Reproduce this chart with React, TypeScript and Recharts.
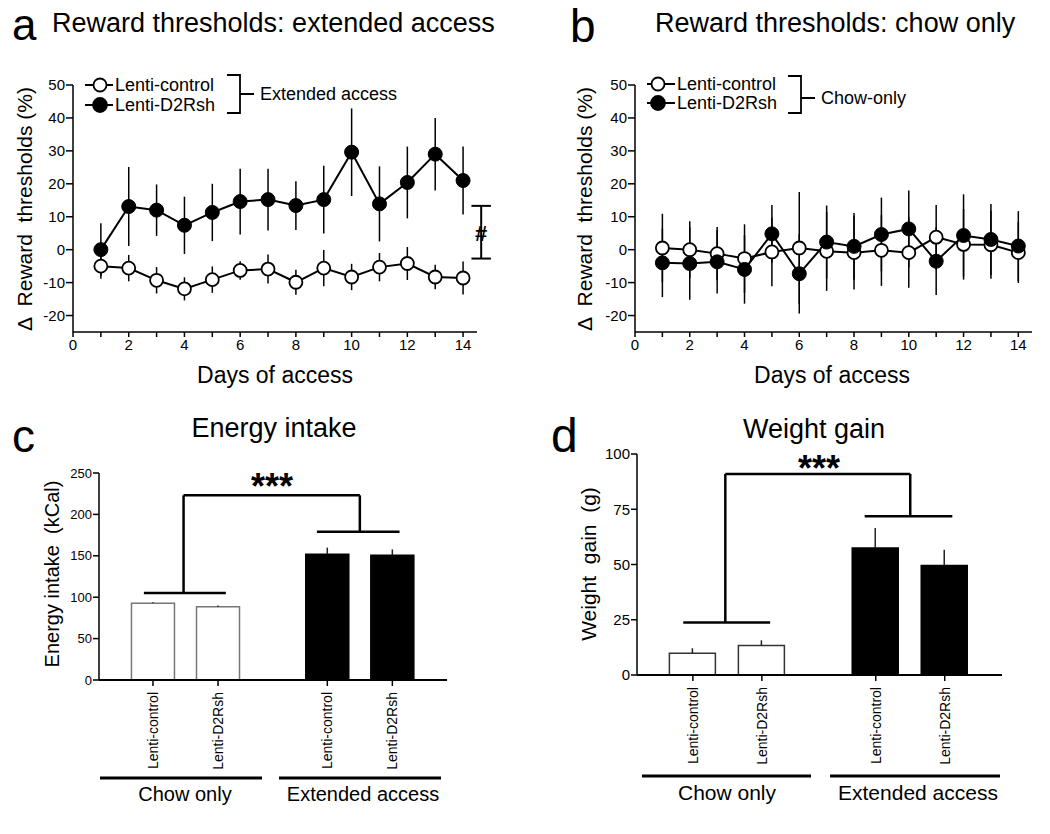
import React from "react";
import {
  LineChart,
  Line,
  BarChart,
  Bar,
  XAxis,
  YAxis,
  ErrorBar,
  Cell,
  ReferenceLine,
} from "recharts";

const FONT = '"Liberation Sans", Arial, Helvetica, sans-serif';

// panels a/b: change in reward thresholds per day
const DAYS = [1, 2, 3, 4, 5, 6, 7, 8, 9, 10, 11, 12, 13, 14];
const DAY_TICKS = [0, 1, 2, 3, 4, 5, 6, 7, 8, 9, 10, 11, 12, 13, 14];
const THRESH_TICKS = [-20, -10, 0, 10, 20, 30, 40, 50];

const A_CONTROL = [-5, -5.6, -9.3, -11.9, -9.1, -6.3, -5.9, -9.9, -5.6, -8.3, -5.3, -4.2, -8.3, -8.6];
const A_CONTROL_ERR = [3.8, 4, 4, 3.5, 4, 2.8, 4.4, 3.8, 5.5, 4, 4.3, 5, 3.7, 5];
const A_D2 = [0, 13.1, 12, 7.4, 11.3, 14.6, 15.2, 13.4, 15.2, 29.6, 13.9, 20.4, 29, 21];
const A_D2_ERR = [8, 12, 7.8, 8.7, 8.7, 10, 9.4, 7.4, 10.3, 13.3, 11.4, 10.9, 11, 10.3];

const B_CONTROL = [0.5, 0, -1.2, -2.7, -0.7, 0.5, -0.5, -0.9, -0.2, -0.9, 3.8, 1.6, 1.5, -0.9];
const B_CONTROL_ERR = [10.4, 8.6, 8.1, 10.4, 10.4, 17, 12, 11.2, 10.8, 10.7, 9.8, 10.7, 10.3, 9.2];
const B_D2 = [-4, -4.2, -3.7, -6, 4.8, -7.3, 2.3, 1, 4.6, 6.3, -3.5, 4.3, 3.1, 1.1];
const B_D2_ERR = [10.4, 11, 9.6, 10.4, 8.8, 12.1, 11.1, 10.1, 11.2, 11.7, 10.3, 12.5, 10.8, 10.6];

// "#" bracket in panel a (top / bottom value)
const A_HASH = [13.3, -2.7];

// panels c/d: bars
const BAR_LABELS = ["Lenti-control", "Lenti-D2Rsh", "Lenti-control", "Lenti-D2Rsh"];
const BAR_FILLS = ["#fff", "#fff", "#000", "#000"];
const GROUP_LABELS = ["Chow only", "Extended access"];

const C_VALUES = [92.8, 88.4, 151.9, 150.7];
const C_ERR = [1, 1.5, 8, 7];
const C_TICKS = [0, 50, 100, 150, 200, 250];
const C_SIG = [105, 179, 223]; // chow line, extended line, top line

const D_VALUES = [9.8, 13.3, 57.5, 49.6];
const D_ERR = [2.3, 2.4, 9, 7.1];
const D_TICKS = [0, 25, 50, 75, 100];
const D_SIG = [23.8, 71.8, 91];

const axisLine = { stroke: "#000", strokeWidth: 1.5 };

function lineData(c: number[], ce: number[], d: number[], de: number[]) {
  return DAYS.map((day, i) => ({
    day,
    control: c[i],
    controlErr: ce[i],
    d2: d[i],
    d2Err: de[i],
  }));
}

function ThresholdChart({
  left,
  width,
  marginLeft,
  marginRight,
  data,
  hash,
}: {
  left: number;
  width: number;
  marginLeft: number;
  marginRight: number;
  data: ReturnType<typeof lineData>;
  hash?: boolean;
}) {
  return (
    <div style={{ position: "absolute", left, top: 0 }}>
      <LineChart
        width={width}
        height={410}
        data={data}
        margin={{ top: 85, right: marginRight, bottom: 18, left: marginLeft }}
      >
        <XAxis
          dataKey="day"
          type="number"
          domain={[0, 14.5]}
          ticks={DAY_TICKS}
          interval={0}
          tickFormatter={(v: number) => (v % 2 === 0 ? String(v) : "")}
          axisLine={axisLine}
          tickLine={axisLine}
          tickSize={5}
          tickMargin={2}
          tick={{ fill: "#000", fontSize: 15, fontFamily: FONT }}
          height={60}
        />
        <YAxis
          type="number"
          domain={[-25, 50]}
          ticks={THRESH_TICKS}
          interval={0}
          axisLine={axisLine}
          tickLine={axisLine}
          tickSize={7}
          tickMargin={1}
          tick={{ fill: "#000", fontSize: 15, fontFamily: FONT }}
          width={60}
        />
        {hash && (
          <>
            <ReferenceLine
              segment={[{ x: 14.65, y: A_HASH[0] }, { x: 14.65, y: A_HASH[1] }]}
              stroke="#000"
              strokeWidth={2}
              ifOverflow="visible"
            />
            <ReferenceLine
              segment={[{ x: 14.3, y: A_HASH[0] }, { x: 15.0, y: A_HASH[0] }]}
              stroke="#000"
              strokeWidth={2}
              ifOverflow="visible"
            />
            <ReferenceLine
              segment={[{ x: 14.3, y: A_HASH[1] }, { x: 15.0, y: A_HASH[1] }]}
              stroke="#000"
              strokeWidth={2}
              ifOverflow="visible"
            />
          </>
        )}
        <Line
          type="linear"
          dataKey="control"
          stroke="#000"
          strokeWidth={2}
          dot={{ r: 6.5, fill: "#fff", stroke: "#000", strokeWidth: 1.8 }}
          isAnimationActive={false}
        >
          <ErrorBar dataKey="controlErr" width={0} stroke="#000" strokeWidth={1.5} direction="y" />
        </Line>
        <Line
          type="linear"
          dataKey="d2"
          stroke="#000"
          strokeWidth={2}
          dot={{ r: 7, fill: "#000", stroke: "#000", strokeWidth: 1 }}
          isAnimationActive={false}
        >
          <ErrorBar dataKey="d2Err" width={0} stroke="#000" strokeWidth={1.5} direction="y" />
        </Line>
      </LineChart>
    </div>
  );
}

function BarPanel({
  left,
  width,
  marginTop,
  marginLeft,
  marginRight,
  marginBottom,
  values,
  errs,
  gap,
  domain,
  ticks,
  barSize,
  sig,
  tickFont,
  outline,
}: {
  left: number;
  width: number;
  marginTop: number;
  marginLeft: number;
  marginRight: number;
  marginBottom: number;
  values: number[];
  errs: number[];
  gap: number;
  domain: [number, number];
  ticks: number[];
  barSize: number;
  sig: number[];
  tickFont: number;
  outline: string;
}) {
  const positions = values.map((_, i) => 1 + i + (i >= 2 ? gap : 0));
  const data = values.map((v, i) => ({ pos: positions[i], value: v, err: [0, errs[i]] }));
  const chowMid = (positions[0] + positions[1]) / 2 - 0.03;
  const extMid = (positions[2] + positions[3]) / 2;
  const seg = (x1: number, y1: number, x2: number, y2: number, k: string) => (
    <ReferenceLine
      key={k}
      segment={[{ x: x1, y: y1 }, { x: x2, y: y2 }]}
      stroke="#000"
      strokeWidth={2.5}
      ifOverflow="visible"
    />
  );
  const RotTick = (props: any) => {
    const { x, y, payload } = props;
    const idx = positions.findIndex((p) => Math.abs(p - payload.value) < 1e-6);
    const yy = y + 4;
    return (
      <text
        x={x}
        y={yy}
        transform={`rotate(-90, ${x}, ${yy})`}
        textAnchor="end"
        dominantBaseline="central"
        fontSize={14}
        fontFamily={FONT}
        fill="#000"
      >
        {BAR_LABELS[idx]}
      </text>
    );
  };
  return (
    <div style={{ position: "absolute", left, top: 410 }}>
      <BarChart
        width={width}
        height={420}
        data={data}
        margin={{ top: marginTop, right: marginRight, bottom: marginBottom, left: marginLeft }}
      >
        <XAxis
          dataKey="pos"
          type="number"
          domain={domain}
          ticks={positions}
          interval={0}
          axisLine={{ stroke: "#000", strokeWidth: 2 }}
          tickLine={axisLine}
          tickSize={6}
          tick={<RotTick />}
          height={100}
        />
        <YAxis
          type="number"
          domain={[0, ticks[ticks.length - 1]]}
          ticks={ticks}
          interval={0}
          axisLine={axisLine}
          tickLine={axisLine}
          tickSize={6}
          tickMargin={1}
          tick={{ fill: "#000", fontSize: tickFont, fontFamily: FONT }}
          width={60}
        />
        <Bar dataKey="value" barSize={barSize} isAnimationActive={false}>
          {data.map((_, i) => (
            <Cell
              key={i}
              fill={BAR_FILLS[i]}
              stroke={BAR_FILLS[i] === "#fff" ? outline : "#000"}
              strokeWidth={1.5}
            />
          ))}
          <ErrorBar dataKey="err" width={0} stroke="#222" strokeWidth={1.5} direction="y" />
        </Bar>
        {seg(positions[0] - 0.14, sig[0], positions[1] + 0.12, sig[0], "a")}
        {seg(chowMid, sig[0], chowMid, sig[2], "b")}
        {seg(chowMid, sig[2], extMid, sig[2], "c")}
        {seg(extMid, sig[2], extMid, sig[1], "d")}
        {seg(positions[2] - 0.16, sig[1], positions[3] + 0.11, sig[1], "e")}
      </BarChart>
    </div>
  );
}

function LegendBlock({
  cx,
  lineX,
  textX,
  rows,
  bracketX,
  bracket,
  label,
}: {
  cx: number;
  lineX: [number, number];
  textX: number;
  rows: [number, number];
  bracketX: number;
  bracket: [number, number, number];
  label: string;
}) {
  const names = ["Lenti-control", "Lenti-D2Rsh"];
  return (
    <g>
      {rows.map((y, i) => (
        <g key={i}>
          <line x1={lineX[0]} y1={y} x2={lineX[1]} y2={y} stroke="#000" strokeWidth={2} />
          <circle
            cx={cx}
            cy={y}
            r={i === 0 ? 6.5 : 7}
            fill={i === 0 ? "#fff" : "#000"}
            stroke="#000"
            strokeWidth={1.8}
          />
          <text x={textX} y={y} dominantBaseline="central" fontSize={18}>
            {names[i]}
          </text>
        </g>
      ))}
      <path
        d={`M${bracketX - 13} ${bracket[0]} H${bracketX} V${bracket[2]} H${bracketX - 13} M${bracketX} ${bracket[1]} H${bracketX + 14}`}
        fill="none"
        stroke="#000"
        strokeWidth={1.8}
      />
      <text x={bracketX + 20} y={bracket[1]} dominantBaseline="central" fontSize={18}>
        {label}
      </text>
    </g>
  );
}

export default function App() {
  const aData = lineData(A_CONTROL, A_CONTROL_ERR, A_D2, A_D2_ERR);
  const bData = lineData(B_CONTROL, B_CONTROL_ERR, B_D2, B_D2_ERR);

  return (
    <div
      style={{
        position: "absolute",
        left: 0,
        top: 0,
        width: 1050,
        height: 834,
        background: "#fff",
        fontFamily: FONT,
        overflow: "hidden",
      }}
    >
      <ThresholdChart left={0} width={520} marginLeft={13} marginRight={43} data={aData} hash />
      <ThresholdChart left={520} width={530} marginLeft={55} marginRight={18} data={bData} />
      <BarPanel
        left={0}
        width={470}
        marginTop={63}
        marginLeft={39}
        marginRight={23}
        marginBottom={50}
        values={C_VALUES}
        errs={C_ERR}
        gap={0.68}
        domain={[0.17, 5.52]}
        ticks={C_TICKS}
        barSize={43}
        sig={C_SIG}
        tickFont={13}
        outline="#777"
      />
      <BarPanel
        left={530}
        width={520}
        marginTop={44}
        marginLeft={47}
        marginRight={48}
        marginBottom={55}
        values={D_VALUES}
        errs={D_ERR}
        gap={0.65}
        domain={[0.19, 5.48]}
        ticks={D_TICKS}
        barSize={46}
        sig={D_SIG}
        tickFont={15}
        outline="#333"
      />
      <svg
        width={1050}
        height={834}
        style={{ position: "absolute", left: 0, top: 0, pointerEvents: "none" }}
        fontFamily={FONT}
        fill="#000"
      >
        {/* panel a */}
        <text x={12} y={40} fontSize={44}>a</text>
        <text x={52} y={32} fontSize={27}>Reward thresholds: extended access</text>
        <text
          x={24}
          y={209}
          fontSize={21}
          textAnchor="middle"
          dominantBaseline="central"
          transform="rotate(-90, 24, 209)"
          style={{ whiteSpace: "pre" }}
        >
          {"Δ  Reward  thresholds (%)"}
        </text>
        <text x={275} y={383} fontSize={23} textAnchor="middle">Days of access</text>
        <text x={481} y={233} fontSize={22} fontWeight="bold" textAnchor="middle" dominantBaseline="central">#</text>
        <LegendBlock
          cx={100}
          lineX={[85, 113]}
          textX={115}
          rows={[85, 105]}
          bracketX={240}
          bracket={[75, 94, 113]}
          label="Extended access"
        />

        {/* panel b */}
        <text x={570} y={42} fontSize={46}>b</text>
        <text x={655} y={32} fontSize={27}>Reward thresholds: chow only</text>
        <text
          x={584}
          y={209}
          fontSize={21}
          textAnchor="middle"
          dominantBaseline="central"
          transform="rotate(-90, 584, 209)"
          style={{ whiteSpace: "pre" }}
        >
          {"Δ  Reward  thresholds (%)"}
        </text>
        <text x={832} y={383} fontSize={23} textAnchor="middle">Days of access</text>
        <LegendBlock
          cx={658}
          lineX={[647, 675]}
          textX={677}
          rows={[84, 103]}
          bracketX={801}
          bracket={[76, 98, 113]}
          label="Chow-only"
        />

        {/* panel c */}
        <text x={12} y={452} fontSize={46}>c</text>
        <text x={274} y={437} fontSize={27} textAnchor="middle">Energy intake</text>
        <text
          x={52}
          y={574}
          fontSize={20}
          textAnchor="middle"
          dominantBaseline="central"
          transform="rotate(-90, 52, 574)"
          style={{ whiteSpace: "pre" }}
        >
          {"Energy intake  (kCal)"}
        </text>
        <text x={272} y={499} fontSize={36} fontWeight="bold" textAnchor="middle">***</text>
        <line x1={100} y1={778} x2={262} y2={778} stroke="#000" strokeWidth={3} />
        <line x1={279} y1={778} x2={441} y2={778} stroke="#000" strokeWidth={3} />
        <text x={185} y={801} fontSize={20} textAnchor="middle">{GROUP_LABELS[0]}</text>
        <text x={363} y={801} fontSize={20} textAnchor="middle">{GROUP_LABELS[1]}</text>

        {/* panel d */}
        <text x={551} y={452} fontSize={48}>d</text>
        <text x={814} y={438} fontSize={27} textAnchor="middle">Weight gain</text>
        <text
          x={588}
          y={564}
          fontSize={21}
          textAnchor="middle"
          dominantBaseline="central"
          transform="rotate(-90, 588, 564)"
          style={{ whiteSpace: "pre" }}
        >
          {"Weight  gain  (g)"}
        </text>
        <text x={819} y={481} fontSize={36} fontWeight="bold" textAnchor="middle">***</text>
        <line x1={642} y1={776} x2={811} y2={776} stroke="#000" strokeWidth={3} />
        <line x1={830} y1={776} x2={1000} y2={776} stroke="#000" strokeWidth={3} />
        <text x={727} y={800} fontSize={21} textAnchor="middle">{GROUP_LABELS[0]}</text>
        <text x={918} y={800} fontSize={21} textAnchor="middle">{GROUP_LABELS[1]}</text>
      </svg>
    </div>
  );
}
